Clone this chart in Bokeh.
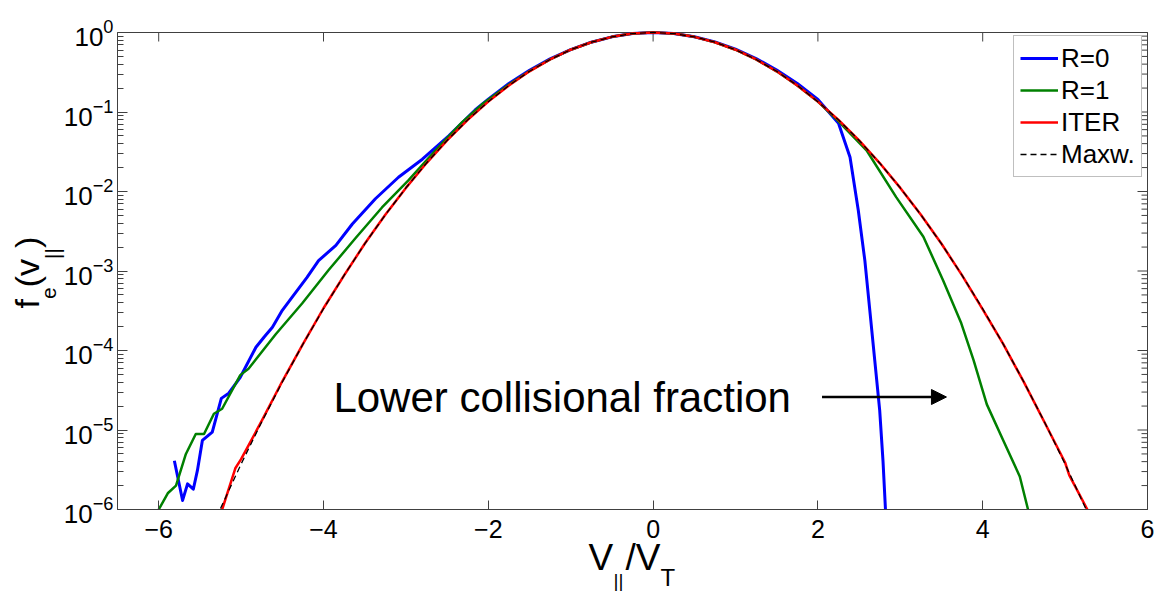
import math
from bokeh.plotting import figure
from bokeh.models import (Legend, LegendItem, FixedTicker, Label, Arrow, NormalHead, Range1d)
from bokeh.embed import file_html
from bokeh.resources import INLINE

# ---------------- data ----------------
x_ticks = [-6, -4, -2, 0, 2, 4, 6]
y_ticks = [1e-6, 1e-5, 1e-4, 1e-3, 1e-2, 1e-1, 1.0]
y_minor = [m * 10.0 ** e for e in range(-6, 0) for m in range(2, 10)]
x_lim = (-6.5, 6.0)
y_lim = (1e-6, 1.0)

v_maxw = [-5.25, -5.0, -4.75, -4.5, -4.25, -4.0, -3.75, -3.5, -3.25, -3.0, -2.75,
          -2.5, -2.25, -2.0, -1.75, -1.5, -1.25, -1.0, -0.75, -0.5, -0.25, 0.0,
          0.25, 0.5, 0.75, 1.0, 1.25, 1.5, 1.75, 2.0, 2.25, 2.5, 2.75, 3.0, 3.25,
          3.5, 3.75, 4.0, 4.25, 4.5, 4.75, 5.0, 5.25]
f_maxw = [1.03e-6, 3.73e-6, 1.26e-5, 4.01e-5, 1.20e-4, 3.35e-4, 8.83e-4, 2.19e-3,
          5.08e-3, 1.11e-2, 2.28e-2, 4.39e-2, 7.96e-2, 0.135, 0.216, 0.325, 0.458,
          0.607, 0.755, 0.882, 0.969, 1.0, 0.969, 0.882, 0.755, 0.607, 0.458, 0.325,
          0.216, 0.135, 7.96e-2, 4.39e-2, 2.28e-2, 1.11e-2, 5.08e-3, 2.19e-3,
          8.83e-4, 3.35e-4, 1.20e-4, 4.01e-5, 1.26e-5, 3.73e-6, 1.03e-6]

v_iter = [-5.23, -5.07, -5.0, -4.75, -4.5, -4.25, -4.0, -3.75, -3.5, -3.25, -3.0,
          -2.75, -2.5, -2.25, -2.0, -1.75, -1.5, -1.25, -1.0, -0.75, -0.5, -0.25,
          0.0, 0.25, 0.5, 0.75, 1.0, 1.25, 1.5, 1.75, 2.0, 2.25, 2.5, 2.75, 3.0,
          3.25, 3.5, 3.75, 4.0, 4.25, 4.5, 4.75, 5.0, 5.05, 5.27]
f_iter = [1.0e-6, 3.3e-6, 4.3e-6, 1.3e-5, 4.1e-5, 1.2e-4, 3.4e-4, 8.8e-4, 2.2e-3,
          5.1e-3, 1.11e-2, 2.28e-2, 4.39e-2, 7.96e-2, 0.135, 0.216, 0.325, 0.458,
          0.607, 0.755, 0.882, 0.969, 1.0, 0.969, 0.882, 0.755, 0.607, 0.458, 0.325,
          0.216, 0.135, 7.96e-2, 4.39e-2, 2.28e-2, 1.11e-2, 5.1e-3, 2.2e-3, 8.8e-4,
          3.3e-4, 1.2e-4, 4.0e-5, 1.25e-5, 3.9e-6, 2.7e-6, 1.0e-6]

v_r0 = [-5.81, -5.71, -5.65, -5.58, -5.53, -5.47, -5.35, -5.24, -5.15, -5.01, -4.82,
        -4.72, -4.62, -4.50, -4.38, -4.20, -4.06, -3.85, -3.65, -3.37, -3.09, -2.80,
        -2.48, -2.16, -2.0, -1.75, -1.5, -1.25, -1.0, -0.75, -0.5, -0.25, 0.0, 0.25,
        0.5, 0.75, 1.0, 1.25, 1.5, 1.75, 2.0, 2.15, 2.25, 2.39, 2.49, 2.57, 2.63,
        2.69, 2.75, 2.79, 2.82]
f_r0 = [4.1e-6, 1.3e-6, 2.1e-6, 1.8e-6, 3.1e-6, 7.4e-6, 9.4e-6, 2.5e-5, 2.9e-5,
        4.6e-5, 1.1e-4, 1.48e-4, 1.96e-4, 3.2e-4, 4.7e-4, 8.3e-4, 1.35e-3, 2.1e-3,
        3.9e-3, 8.1e-3, 1.51e-2, 2.55e-2, 5.0e-2, 0.106, 0.145, 0.228, 0.335, 0.465,
        0.610, 0.755, 0.882, 0.969, 1.0, 0.970, 0.886, 0.762, 0.617, 0.470, 0.338,
        0.228, 0.144, 0.095, 0.072, 2.7e-2, 5.8e-3, 1.35e-3, 3.2e-4, 7.5e-5, 1.77e-5,
        4.1e-6, 1.0e-6]

v_r1 = [-6.0, -5.89, -5.79, -5.67, -5.55, -5.45, -5.33, -5.23, -5.01, -4.91, -4.58,
        -4.26, -3.94, -3.61, -3.29, -2.97, -2.64, -2.32, -2.08, -1.75, -1.5, -1.25,
        -1.0, -0.75, -0.5, -0.25, 0.0, 0.25, 0.5, 0.75, 1.0, 1.25, 1.5, 1.75, 2.0,
        2.23, 2.59, 2.95, 3.28, 3.52, 3.74, 3.89, 4.05, 4.25, 4.45, 4.55]
f_r1 = [1.0e-6, 1.6e-6, 2.0e-6, 5.0e-6, 8.9e-6, 8.9e-6, 1.6e-5, 1.85e-5, 4.9e-5,
        5.9e-5, 1.6e-4, 3.9e-4, 1.02e-3, 2.6e-3, 6.3e-3, 1.38e-2, 3.3e-2, 7.4e-2,
        0.124, 0.221, 0.328, 0.460, 0.607, 0.755, 0.882, 0.969, 1.0, 0.969, 0.882,
        0.755, 0.607, 0.458, 0.325, 0.216, 0.135, 8.0e-2, 3.3e-2, 8.5e-3, 2.7e-3,
        7.6e-4, 2.2e-4, 7.5e-5, 2.1e-5, 7.4e-6, 2.6e-6, 1.0e-6]

series_names = ["R=0", "R=1", "ITER", "Maxw."]
annotation_text = "Lower collisional fraction"
arrow_x = (2.05, 3.56)
arrow_y = 2.6e-5
text_pos = (-3.88, 2.55e-5)

# ---------------- layout constants ----------------
W, H = 1155, 591
BOX_L, BOX_R, BOX_T, BOX_B = 117, 1147, 32, 509     # axes box in page pixels
LEG_L, LEG_T, LEG_ROW, LEG_PAD = 1013, 37, 32, 6
FONT = "Liberation Sans"
AX = "#404040"

# the whole page is the bokeh frame, so that the axis titles are not clipped
px_per_x = (BOX_R - BOX_L) / (x_lim[1] - x_lim[0])
dec = math.log10(y_lim[1]) - math.log10(y_lim[0])
px_per_dec = (BOX_B - BOX_T) / dec
x_full = (x_lim[0] - BOX_L / px_per_x, x_lim[1] + (W - BOX_R) / px_per_x)
y_full = (10 ** (math.log10(y_lim[0]) - (H - BOX_B) / px_per_dec),
          10 ** (math.log10(y_lim[1]) + BOX_T / px_per_dec))

p = figure(width=W, height=H, x_range=Range1d(*x_full), y_range=Range1d(*y_full),
           y_axis_type="log", output_backend="svg", toolbar_location=None,
           min_border=0)
p.background_fill_color = "white"
p.border_fill_color = "white"
p.outline_line_color = None
p.xgrid.grid_line_color = None
p.ygrid.grid_line_color = None

xa = p.xaxis[0]
xa.fixed_location = y_lim[0]
xa.bounds = x_lim
xa.ticker = FixedTicker(ticks=x_ticks)
xa.minor_tick_line_color = None
xa.major_tick_in = 9
xa.major_tick_out = 0
xa.major_label_standoff = 10
xa.major_label_text_font = FONT
xa.major_label_text_font_size = "25px"
xa.major_label_text_color = "black"
xa.axis_line_color = AX
xa.major_tick_line_color = AX

ya = p.yaxis[0]
ya.fixed_location = x_lim[0]
ya.bounds = y_lim
ya.ticker = FixedTicker(ticks=y_ticks, minor_ticks=y_minor)
ya.major_tick_in = 10
ya.major_tick_out = 0
ya.minor_tick_in = 6
ya.minor_tick_out = 0
ya.major_label_standoff = 4
ya.major_label_text_font = FONT
ya.major_label_text_font_size = "26px"
ya.major_label_text_color = "black"
ya.axis_line_color = AX
ya.major_tick_line_color = AX
ya.minor_tick_line_color = AX

# box and inward ticks on top and right edges
p.quad(left=[x_lim[0]], right=[x_lim[1]], bottom=[y_lim[0]], top=[y_lim[1]],
       fill_color=None, line_color=AX, line_width=1)
p.ray(x=x_ticks, y=[y_lim[1]] * len(x_ticks), length=9, length_units="screen",
      angle=-math.pi / 2, line_color=AX, line_width=1)
p.ray(x=[x_lim[1]] * len(y_ticks), y=y_ticks, length=10, length_units="screen",
      angle=math.pi, line_color=AX, line_width=1)
p.ray(x=[x_lim[1]] * len(y_minor), y=y_minor, length=6, length_units="screen",
      angle=math.pi, line_color=AX, line_width=1)

r0 = p.line(v_r0, f_r0, line_color="#0000ff", line_width=3, line_join="round")
r1 = p.line(v_r1, f_r1, line_color="#008000", line_width=2.5, line_join="round")
r2 = p.line(v_iter, f_iter, line_color="#ff0000", line_width=2.5, line_join="round")
r3 = p.line(v_maxw, f_maxw, line_color="black", line_width=1.3, line_dash="6 4")

leg_h = LEG_ROW * len(series_names) + 2 * LEG_PAD
legend = Legend(items=[LegendItem(label=n, renderers=[r]) for n, r in
                       zip(series_names, [r0, r1, r2, r3])],
                location=(LEG_L, H - LEG_T - leg_h), margin=0, padding=LEG_PAD,
                spacing=0, glyph_width=38, glyph_height=LEG_ROW, label_height=LEG_ROW,
                label_standoff=3, label_text_font=FONT, label_text_font_size="26px",
                label_text_color="black",
                border_line_color="#808080", border_line_width=1,
                background_fill_color="white", background_fill_alpha=1)
p.add_layout(legend)

p.add_layout(Label(x=text_pos[0], y=text_pos[1], text=annotation_text,
                   text_font=FONT, text_font_size="42px", text_color="black",
                   text_baseline="middle", text_align="left"))
p.add_layout(Arrow(end=NormalHead(size=15, fill_color="black", line_color="black"),
                   x_start=arrow_x[0], y_start=arrow_y, x_end=arrow_x[1], y_end=arrow_y,
                   line_width=2.5, line_color="black"))

# x-axis title  V_||/V_T   (page pixels: left edge, vertical middle from top)
x_title = [("V", 588, 557, "37px"), ("||", 613, 579.5, "19px"),
           ("/V", 625, 557, "37px"), ("T", 660, 576.5, "24px")]
for t, cx, cy, fs in x_title:
    p.add_layout(Label(x=cx, y=H - cy, x_units="screen", y_units="screen", text=t,
                       text_font=FONT, text_font_size=fs, text_color="black",
                       text_baseline="middle", text_align="left"))

# y-axis title  f_e(v_||)  rotated (middle x, start y in page pixels)
y_title = [("f", 26, 308, "34px"), ("e", 48.5, 298.5, "21px"),
           ("(v", 26, 286.8, "34px"), ("||", 52, 258.5, "21px"),
           (")", 26, 247.6, "34px")]
for t, cx, cy, fs in y_title:
    p.add_layout(Label(x=cx, y=H - cy, x_units="screen", y_units="screen", text=t,
                       angle=math.pi / 2, text_font=FONT, text_font_size=fs,
                       text_color="black", text_baseline="middle",
                       text_align="left"))

open("out.html", "w").write(file_html(p, INLINE))
